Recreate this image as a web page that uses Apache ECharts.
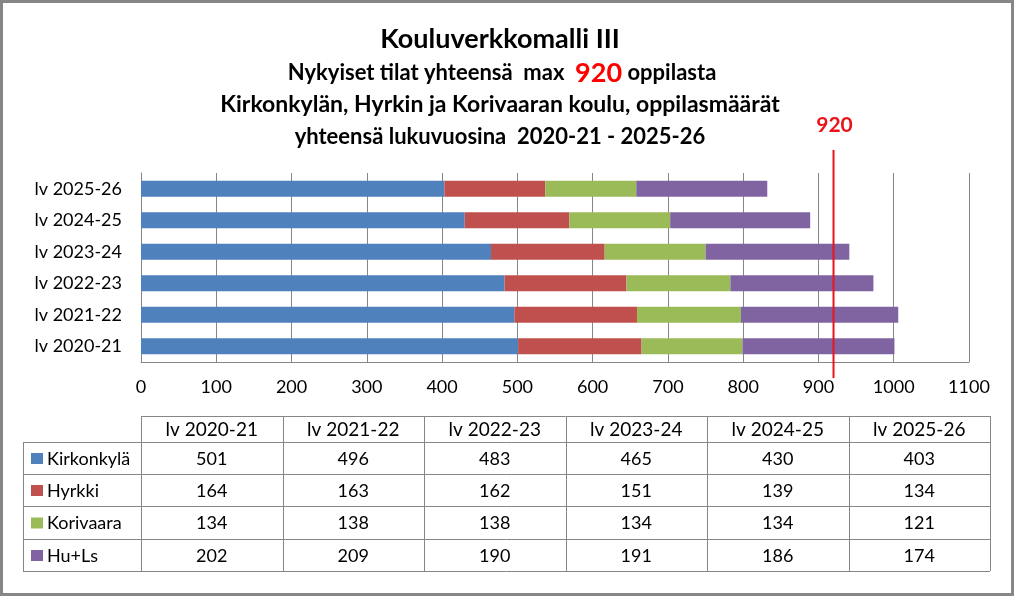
<!DOCTYPE html>
<html>
<head>
<meta charset="utf-8">
<script src="https://cdn.jsdelivr.net/npm/echarts@6/dist/echarts.min.js"></script>
<style>
html,body{margin:0;padding:0;background:#fff;}
#chart{width:1014px;height:596px;}
</style>
</head>
<body>
<div id="chart"></div>
<script>
// ---- data ----
const categories = ['lv 2020-21', 'lv 2021-22', 'lv 2022-23', 'lv 2023-24', 'lv 2024-25', 'lv 2025-26'];
const seriesNames = ['Kirkonkylä', 'Hyrkki', 'Korivaara', 'Hu+Ls'];
const kirkonkyla = [501, 496, 483, 465, 430, 403];
const hyrkki = [164, 163, 162, 151, 139, 134];
const korivaara = [134, 138, 138, 134, 134, 121];
const huLs = [202, 209, 190, 191, 186, 174];
const xMin = 0, xMax = 1100, xStep = 100;
const capacity = 920;
const titleLines = [
  'Kouluverkkomalli III',
  'Nykyiset tilat yhteensä  max  ',
  ' oppilasta',
  'Kirkonkylän, Hyrkin ja Korivaaran koulu, oppilasmäärät',
  'yhteensä lukuvuosina  2020-21 - 2025-26'
];

// ---- styles ----
const FONT = 'Lato';
const colors = ['#4F81BD', '#C0504D', '#9BBB59', '#8064A2'];
const GRAY = '#868686';
const values = [kirkonkyla, hyrkki, korivaara, huLs];

const chart = echarts.init(document.getElementById('chart'), null, {renderer: 'canvas'});

const series = seriesNames.map((n, i) => ({
  name: n,
  type: 'bar',
  stack: 'total',
  barWidth: 16,
  itemStyle: {color: colors[i]},
  data: values[i],
  animation: false
}));

chart.setOption({
  animation: false,
  textStyle: {fontFamily: FONT},
  grid: {left: 141, right: 45, top: 173, bottom: 234, containLabel: false},
  xAxis: {
    type: 'value', min: xMin, max: xMax, interval: xStep,
    axisLine: {show: true, lineStyle: {color: GRAY, width: 1}},
    axisTick: {show: false},
    splitLine: {show: true, lineStyle: {color: GRAY, width: 1}},
    axisLabel: {color: '#000', fontSize: 18, fontFamily: FONT, margin: 16, formatter: v => String(v)}
  },
  yAxis: {
    type: 'category', data: categories,
    axisLine: {show: true, lineStyle: {color: GRAY, width: 1}},
    axisTick: {show: false},
    axisLabel: {color: '#000', fontSize: 18, fontFamily: FONT, margin: 19}
  },
  series: series
});

// ---- graphics: title, capacity line, data table, border ----
const g = [];
// border
g.push({type: 'rect', shape: {x: 1.5, y: 1.5, width: 1011, height: 593}, style: {fill: null, stroke: GRAY, lineWidth: 3}, silent: true});
// titles
g.push({type: 'text', x: 500, y: 39, style: {text: titleLines[0], font: 'bold 27px ' + FONT, fill: '#000', textAlign: 'center', textVerticalAlign: 'middle'}});
g.push({type: 'text', x: 502, y: 73, style: {
  text: '{a|' + titleLines[1] + '}{r|' + capacity + '}{a|' + titleLines[2] + '}',
  rich: {
    a: {fontFamily: FONT, fontWeight: 'bold', fontSize: 22, fill: '#000'},
    r: {fontFamily: FONT, fontWeight: 'bold', fontSize: 27, fill: '#FF0000'}
  },
  textAlign: 'center', textVerticalAlign: 'middle'}});
g.push({type: 'text', x: 500, y: 105, style: {text: titleLines[3], font: 'bold 23px ' + FONT, fill: '#000', textAlign: 'center', textVerticalAlign: 'middle'}});
g.push({type: 'text', x: 500, y: 137, style: {text: titleLines[4], font: 'bold 22px ' + FONT, fill: '#000', textAlign: 'center', textVerticalAlign: 'middle'}});

// capacity line through the axis scale
const cx = chart.convertToPixel({xAxisIndex: 0}, capacity);
g.push({type: 'line', shape: {x1: cx, y1: 150, x2: cx, y2: 378}, style: {stroke: '#E8141B', lineWidth: 2}, z: 100});
g.push({type: 'text', x: cx + 1, y: 125, style: {text: String(capacity), font: 'bold 21px ' + FONT, fill: '#E8141B', textAlign: 'center', textVerticalAlign: 'middle'}, z: 100});

// data table
const tLeft = 23, tFirst = 141, tRight = 990;
const colW = (tRight - tFirst) / categories.length;
const rowY = [416, 442, 474, 506, 539, 571];
const lineStyle = {stroke: GRAY, lineWidth: 1};
// horizontal lines
g.push({type: 'line', shape: {x1: tFirst, y1: rowY[0] + 0.5, x2: tRight, y2: rowY[0] + 0.5}, style: lineStyle});
for (let r = 1; r < rowY.length; r++) {
  g.push({type: 'line', shape: {x1: tLeft, y1: rowY[r] + 0.5, x2: tRight, y2: rowY[r] + 0.5}, style: lineStyle});
}
// vertical lines
g.push({type: 'line', shape: {x1: tLeft + 0.5, y1: rowY[1], x2: tLeft + 0.5, y2: rowY[5]}, style: lineStyle});
for (let c = 0; c <= categories.length; c++) {
  const x = Math.round(tFirst + c * colW) + 0.5;
  g.push({type: 'line', shape: {x1: x, y1: rowY[0], x2: x, y2: rowY[5]}, style: lineStyle});
}
// header
categories.forEach((cat, c) => {
  g.push({type: 'text', x: tFirst + (c + 0.5) * colW, y: (rowY[0] + rowY[1]) / 2 + 1,
    style: {text: cat, font: '19px ' + FONT, fill: '#000', textAlign: 'center', textVerticalAlign: 'middle'}});
});
// rows
seriesNames.forEach((n, i) => {
  const yc = (rowY[i + 1] + rowY[i + 2]) / 2 + 1;
  g.push({type: 'rect', shape: {x: 31, y: yc - 6, width: 12, height: 11}, style: {fill: colors[i]}});
  g.push({type: 'text', x: 47, y: yc, style: {text: n, font: '18px ' + FONT, fill: '#000', textAlign: 'left', textVerticalAlign: 'middle'}});
  values[i].forEach((v, c) => {
    g.push({type: 'text', x: tFirst + (c + 0.5) * colW, y: yc,
      style: {text: String(v), font: '18px ' + FONT, fill: '#000', textAlign: 'center', textVerticalAlign: 'middle'}});
  });
});

chart.setOption({graphic: {elements: g}});
</script>
</body>
</html>
